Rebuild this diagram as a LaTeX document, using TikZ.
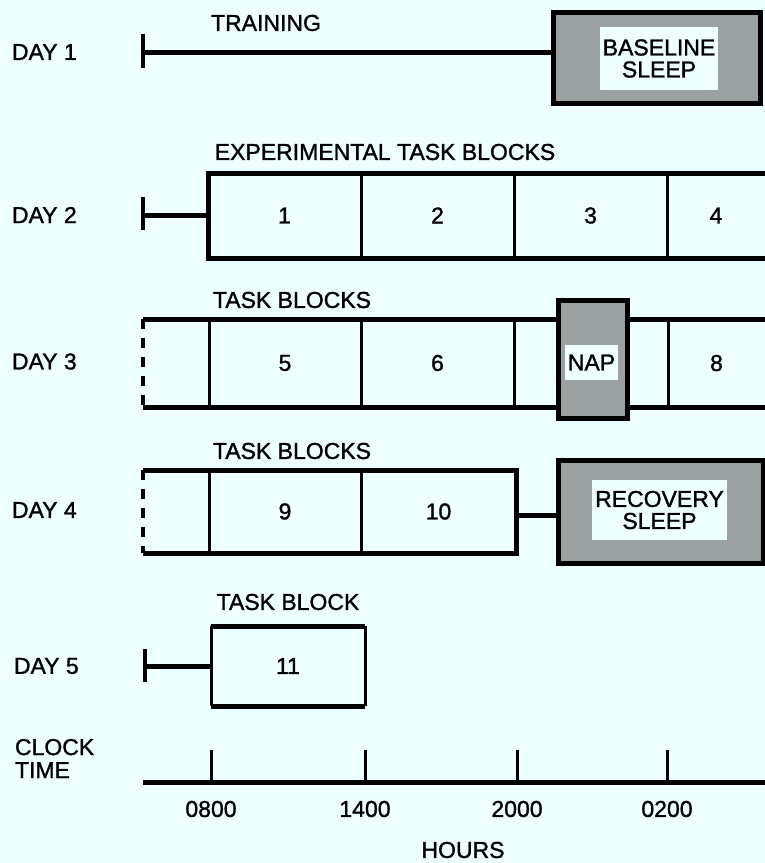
\documentclass[tikz,border=0pt]{standalone}
\usepackage{fontspec}
\setmainfont{Liberation Sans}[FakeBold=1.3]
\definecolor{bg}{RGB}{238,255,255}
\definecolor{shade}{RGB}{155,160,160}
\tikzset{
  txt/.style={font=\fontsize{23}{23}\selectfont, inner sep=0pt, outer sep=0pt},
  daylab/.style={txt, anchor=west},
  cell/.style n args={2}{txt, minimum width=#1, minimum height=#2, inner sep=0pt, outer sep=0pt},
  thickln/.style={line width=5pt},
  thinln/.style={line width=3pt},
  tickln/.style={line width=4pt},
  dashln/.style={line width=3.5pt, dash pattern=on 10pt off 9pt},
  sleepbox/.style n args={2}{draw, line width=5pt, fill=shade, minimum width=#1, minimum height=#2, inner sep=0pt},
  sleeptxt/.style n args={2}{txt, fill=bg, minimum width=#1, minimum height=#2, align=center},
}
\begin{document}
\begin{tikzpicture}[x=1pt,y=-1pt]
\fill[bg] (0,0) rectangle (765,863);
\useasboundingbox (0,0) rectangle (765,863);

% ---------- DAY 1 ----------
\node[daylab] (d1) at (12,52) {DAY 1};
\node[txt] (train) at (266,23) {TRAINING};
\coordinate (s1) at (143,52);
\node[sleepbox={207pt}{91pt}] (base) at (657,57.5) {};
\node[sleeptxt={118pt}{63pt}] (baset) at (659,58.5) {BASELINE\\[-1pt]SLEEP};
\draw[tickln] ([yshift=-16pt]s1) -- ([yshift=18pt]s1);
\draw[thickln] (s1) -- (s1 -| base.west);

% ---------- DAY 2 ----------
\node[daylab] (d2) at (12,215) {DAY 2};
\node[txt] (exp) at (385,152) {EXPERIMENTAL TASK BLOCKS};
\coordinate (s2) at (143,215);
\node[cell={153pt}{85pt}] (b1) at (284.5,215.5) {1};
\node[cell={153pt}{85pt}] (b2) at (437.5,215.5) {2};
\node[cell={153pt}{85pt}] (b3) at (590.5,215.5) {3};
\node[cell={98pt}{85pt}] (b4) at (716,215.5) {4};
\draw[tickln] ([yshift=-15pt]s2) -- ([yshift=18pt]s2);
\draw[thickln] (s2) -- (s2 -| b1.west);
\draw[thickln] ([xshift=10pt]b4.north east) -- (b1.north west) -- (b1.south west) -- ([xshift=10pt]b4.south east);
\draw[thinln] (b1.north east) -- (b1.south east);
\draw[thinln] (b2.north east) -- (b2.south east);
\draw[thinln] (b3.north east) -- (b3.south east);

% ---------- DAY 3 ----------
\node[daylab] (d3) at (12,361.5) {DAY 3};
\node[txt] (tb3) at (292,300) {TASK BLOCKS};
\node[cell={66pt}{88pt}] (c0) at (176,363) {};
\node[cell={152pt}{88pt}] (c5) at (285,363) {5};
\node[cell={153pt}{88pt}] (c6) at (437.5,363) {6};
\node[cell={44pt}{88pt}] (c7) at (536,363) {};
\node[sleepbox={69pt}{118pt}] (nap) at (592.5,359) {};
\node[sleeptxt={53pt}{35pt}] (napt) at (591.5,362.5) {NAP};
\node[cell={41pt}{88pt}] (c7b) at (647.5,363) {};
\node[cell={97pt}{88pt}] (c8) at (716.5,363) {8};
\draw[dashln] (c0.north west) -- (c0.south west);
\draw[thickln] (c0.north west) -- (c7.north east);
\draw[thickln] (c0.south west) -- (c7.south east);
\draw[thickln] (c7b.north west) -- ([xshift=10pt]c8.north east);
\draw[thickln] (c7b.south west) -- ([xshift=10pt]c8.south east);
\draw[thinln] (c0.north east) -- (c0.south east);
\draw[thinln] (c5.north east) -- (c5.south east);
\draw[thinln] (c6.north east) -- (c6.south east);
\draw[thinln] (c8.north west) -- (c8.south west);

% ---------- DAY 4 ----------
\node[daylab] (d4) at (12,510) {DAY 4};
\node[txt] (tb4) at (292,451) {TASK BLOCKS};
\node[cell={66pt}{83pt}] (e0) at (176,511.5) {};
\node[cell={152pt}{83pt}] (e9) at (285,511.5) {9};
\node[cell={155pt}{83pt}] (e10) at (438.5,511.5) {10};
\node[sleepbox={205pt}{103pt}] (rec) at (660.5,511.5) {};
\node[sleeptxt={135pt}{60pt}] (rect) at (659.5,510) {RECOVERY\\[-1pt]SLEEP};
\draw[dashln] (e0.north west) -- (e0.south west);
\draw[thickln] (e0.north west) -- (e10.north east) -- (e10.south east) -- (e0.south west);
\draw[thinln] (e0.north east) -- (e0.south east);
\draw[thinln] (e9.north east) -- (e9.south east);
\draw[thickln] ([yshift=-3.5pt]e10.east) -- ([yshift=-3.5pt]e10.east -| rec.west);

% ---------- DAY 5 ----------
\node[daylab] (d5) at (14,666) {DAY 5};
\node[txt] (tb5) at (288,602) {TASK BLOCK};
\coordinate (s5) at (145,666);
\node[cell={154pt}{80pt}] (f11) at (288,666) {11};
\draw[tickln] ([yshift=-16pt]s5) -- ([yshift=17pt]s5);
\draw[thickln] (s5) -- (s5 -| f11.west);
\draw[thickln] (f11.north west) -- (f11.north east);
\draw[thickln] (f11.south west) -- (f11.south east);
\draw[thinln] (f11.north west) -- (f11.south west);
\draw[thinln] (f11.north east) -- (f11.south east);

% ---------- CLOCK ----------
\node[txt, anchor=north west, align=left] (clk) at (15,739) {CLOCK\\TIME};
\coordinate (a0) at (143,782);
\coordinate (a1) at (770,782);
\draw[thickln] (a0) -- (a1);
\foreach \x/\t [count=\i] in {211/0800,365/1400,517/2000,667/0200}{
  \coordinate (t\i) at (\x,782);
  \draw[thinln] (t\i) -- ++(0,-32);
  \node[txt] (l\i) at (\x,809) {\t};
}
\node[txt] (hrs) at (463,850) {HOURS};
\end{tikzpicture}
\end{document}
